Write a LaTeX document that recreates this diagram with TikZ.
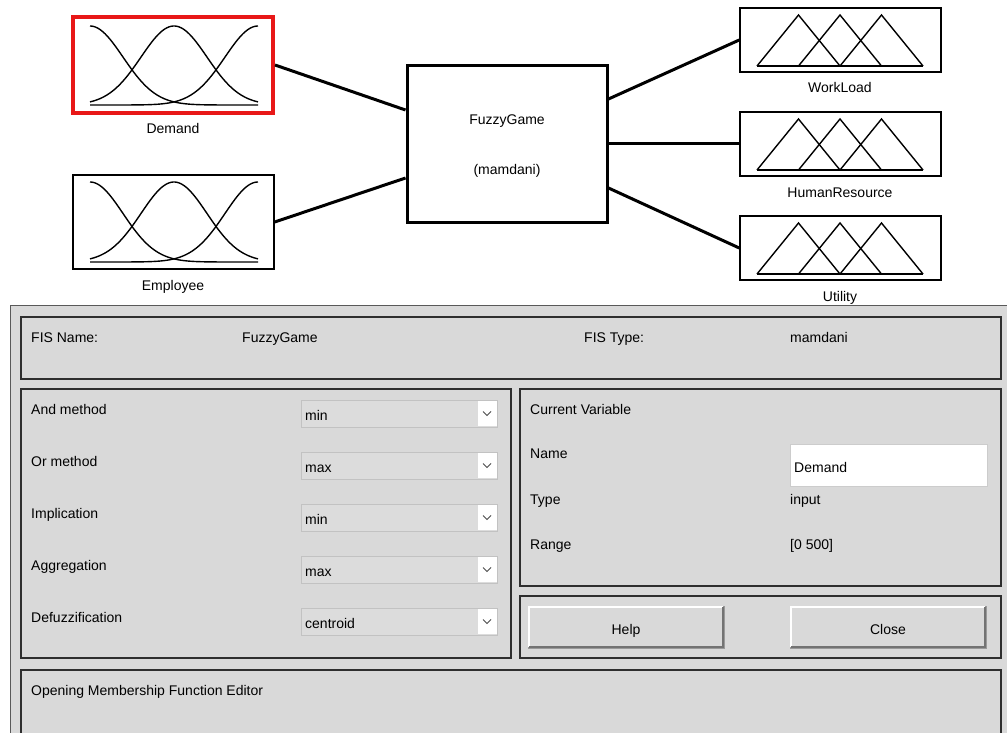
\documentclass[tikz,border=0pt]{standalone}
\usepackage{fontspec}
\setmainfont{Liberation Sans}
\definecolor{panelgray}{HTML}{D9D9D9}
\definecolor{framedark}{HTML}{2E2E2E}
\definecolor{ddborder}{HTML}{C2C2C2}
\definecolor{ddfill}{HTML}{DCDCDC}
\definecolor{selred}{RGB}{232,24,24}
\begin{document}
\begin{tikzpicture}[x=1pt,y=-1pt,
  lbl/.style={font=\fontsize{14}{16}\selectfont, inner sep=0pt},
  lblw/.style={lbl, anchor=base west},
  lblc/.style={lbl, anchor=base},
  mfbox/.style={draw=black, line width=1.5pt, minimum width=201pt, minimum height=64pt, inner sep=0pt},
  link/.style={line width=3pt},
  curve/.style={line width=1.4pt},
  panel/.style={draw=framedark, line width=1.5pt, fill=panelgray},
  dropbox/.style={draw=ddborder, line width=0.8pt, fill=ddfill},
  chev/.style={draw=black!70, line width=0.8pt},
  btn/.style={draw=gray!80, line width=0.8pt, fill=panelgray}
]
\useasboundingbox (0,0) rectangle (1007,733);
\fill[white] (0,0) rectangle (1007,733);

% ---------- top diagram ----------
\node[draw=selred, line width=4pt, minimum width=200pt, minimum height=96pt, inner sep=0pt] (dem) at (173,65) {};
\node[draw=black, line width=1.5pt, minimum width=201pt, minimum height=94pt, inner sep=0pt] (emp) at (173.5,222) {};
\node[draw=black, line width=3pt, minimum width=200pt, minimum height=156pt, inner sep=0pt] (fis) at (507,144) {};
\node[mfbox] (wl) at (840.5,40) {};
\node[mfbox] (hr) at (840.5,144) {};
\node[mfbox] (ut) at (840.5,248) {};

% gaussian membership functions
\foreach \c in {90,174,258}{
  \draw[curve] plot[domain=90:258, samples=90, smooth] (\x,{105-79*exp(-0.5*((\x-\c)/33)^2)});
  \draw[curve] plot[domain=90:258, samples=90, smooth] (\x,{262-80*exp(-0.5*((\x-\c)/33)^2)});
}
% triangular membership functions
\foreach \t in {8,112,216}{
  \draw[curve] (757,{\t+58}) -- (923,{\t+58});
  \foreach \i in {0,1,2}{
    \draw[curve, line join=miter] ({757+41.5*\i},{\t+58}) -- ({798.5+41.5*\i},{\t+7}) -- ({840+41.5*\i},{\t+58});
  }
}

\node[lblc] (demlbl) at (173,134) {Demand};
\node[lblc] (emplbl) at (173,290) {Employee};
\node[lblc] (fisname) at (507,125) {FuzzyGame};
\node[lblc] (fistype) at (507,175) {(mamdani)};
\node[lblc] (wllbl) at (840,93) {WorkLoad};
\node[lblc] (hrlbl) at (840,197) {HumanResource};
\node[lblc] (utlbl) at (840,301) {Utility};

\draw[link] (dem.east) -- ([yshift=34pt]fis.west);
\draw[link] (emp.east) -- ([yshift=-34pt]fis.west);
\draw[link] ([yshift=45pt]fis.east) -- (wl.west);
\draw[link] (fis.east) -- (hr.west);
\draw[link] ([yshift=-44pt]fis.east) -- (ut.west);

% ---------- FIS editor window ----------
\fill[panelgray] (10,305) rectangle (1010,736);
\draw[black!65, line width=1pt] (1010,305) -- (10,305) -- (10,736);

\draw[panel] (21,317) rectangle (1001,379);
\draw[panel] (21,389) rectangle (511,658);
\draw[panel] (520,389) rectangle (1001,586);
\draw[panel] (520,596) rectangle (1001,658);
\draw[panel] (21,670) rectangle (1001,745);

% panel 1
\node[lblw] (fisnamel) at (31,342) {FIS Name:};
\node[lblw] (fisnamev) at (242,342) {FuzzyGame};
\node[lblw] (fistypel) at (584,342) {FIS Type:};
\node[lblw] (fistypev) at (790,342) {mamdani};

% panel 2: methods with dropdowns
\foreach \yt/\lab/\val [count=\k] in {400/And method/min, 452/Or method/max, 504/Implication/min, 556/Aggregation/max, 608/Defuzzification/centroid}{
  \node[lblw] (m\k) at (31,{\yt+14}) {\lab};
  \draw[dropbox] (301,\yt) rectangle (497,{\yt+27});
  \fill[white] (477.5,{\yt+1}) rectangle (496.5,{\yt+26});
  \draw[chev] (483,{\yt+11.5}) -- (487,{\yt+15.5}) -- (491,{\yt+11.5});
  \node[lblw] (v\k) at (305,{\yt+20.5}) {\val};
}

% panel 3: current variable
\node[lblw] (cv) at (530,414) {Current Variable};
\node[lblw] (nm) at (530,458.5) {Name};
\node[lblw] (tp) at (530,504) {Type};
\node[lblw] (rg) at (530,549) {Range};
\draw[draw=black!20, line width=0.8pt, fill=white] (790,444) rectangle (987,486);
\node[lblw] (nmv) at (794,472) {Demand};
\node[lblw] (tpv) at (790,504) {input};
\node[lblw] (rgv) at (790,549) {[0 500]};

% panel 4: buttons
\draw[btn] (528,606) rectangle (724,648);
\draw[white, line width=1.2pt] (529,647) -- (529,607) -- (723,607);
\draw[black!55, line width=1.5pt] (723,607) -- (723,647) -- (529,647);
\draw[btn] (790,606) rectangle (986,648);
\draw[white, line width=1.2pt] (791,647) -- (791,607) -- (985,607);
\draw[black!55, line width=1.5pt] (985,607) -- (985,647) -- (791,647);
\node[lblc] (help) at (626,634) {Help};
\node[lblc] (close) at (888,634) {Close};

% panel 5: status
\node[lblw] (status) at (31,695) {Opening Membership Function Editor};
\end{tikzpicture}
\end{document}
